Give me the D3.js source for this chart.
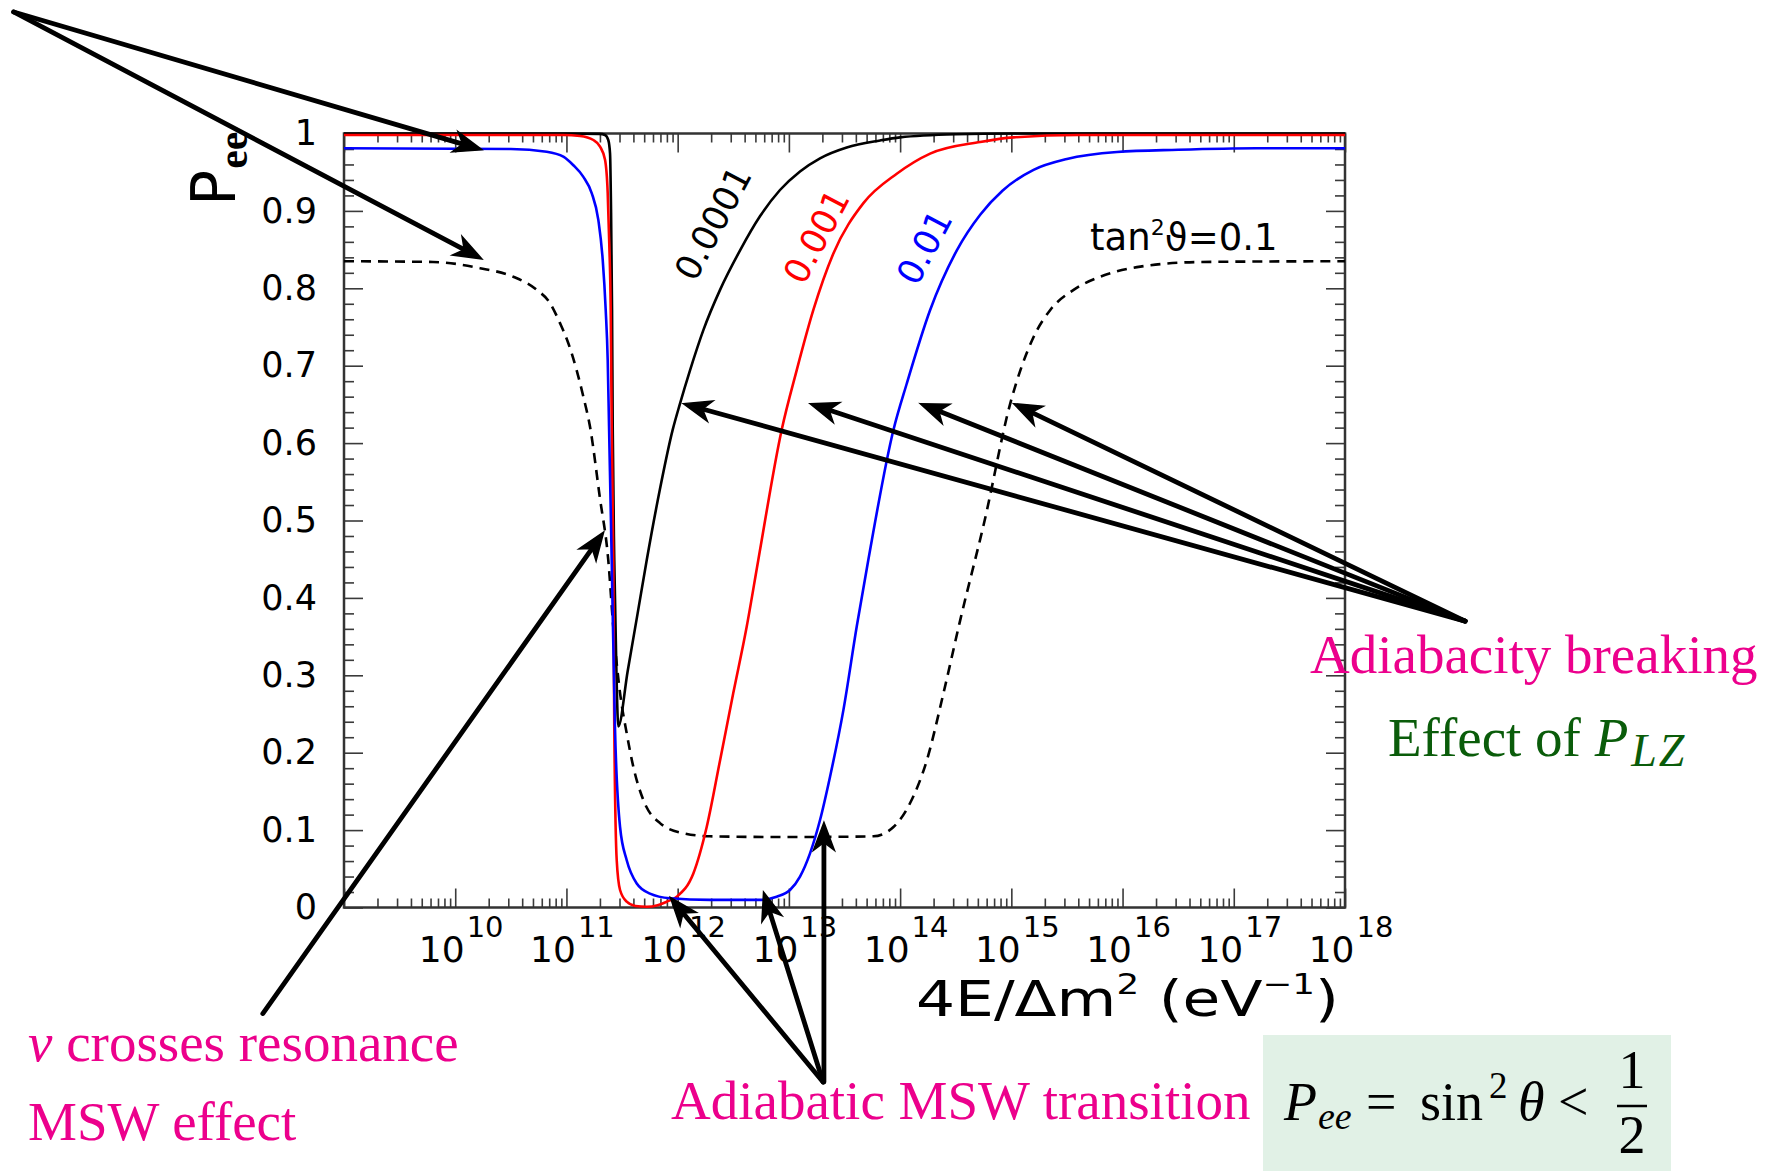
<!DOCTYPE html>
<html><head><meta charset="utf-8">
<script src="https://cdn.jsdelivr.net/npm/d3@7"></script>
<style>html,body{margin:0;padding:0;background:#fff;}svg{display:block;}</style>
</head><body>
<svg id="chart" width="1776" height="1171"></svg>
<script>
// ---------- data: survival probability vs log10(4E/Δm²) ----------
const blackLogE = [9, 11.0, 11.3, 11.347, 11.376, 11.392, 11.401, 11.41, 11.416, 11.43, 11.45, 11.466, 11.55, 11.64, 11.722, 11.84, 11.955, 12.021, 12.111, 12.231, 12.381, 12.561, 12.74, 12.92, 13.1, 13.28, 13.52, 13.82, 14.0, 14.5, 15.0, 18];
const blackP    = [1, 1, 0.9995, 0.998, 0.9916, 0.974, 0.901, 0.772, 0.621, 0.449, 0.3, 0.234, 0.305, 0.38, 0.449, 0.54, 0.617, 0.651, 0.694, 0.746, 0.798, 0.849, 0.893, 0.927, 0.951, 0.968, 0.982, 0.991, 0.995, 0.999, 1, 1];

const redLogE = [9, 10.972, 11.122, 11.242, 11.302, 11.347, 11.371, 11.385, 11.398, 11.407, 11.421, 11.43, 11.452, 11.482, 11.542, 11.62, 11.722, 11.82, 11.902, 11.992, 12.141, 12.261, 12.381, 12.5, 12.621, 12.725, 12.935, 13.07, 13.22, 13.4, 13.67, 13.97, 14.27, 14.72, 15.02, 15.6, 18];
const redP    = [0.998, 0.998, 0.9968, 0.9916, 0.983, 0.966, 0.923, 0.858, 0.772, 0.621, 0.449, 0.234, 0.061, 0.0226, 0.0075, 0.002, 0.001, 0.003, 0.0075, 0.014, 0.044, 0.104, 0.19, 0.277, 0.363, 0.449, 0.617, 0.694, 0.772, 0.845, 0.91, 0.948, 0.974, 0.989, 0.995, 0.998, 0.998];

const blueLogE = [9, 10.5, 10.822, 10.972, 11.062, 11.152, 11.227, 11.287, 11.326, 11.353, 11.371, 11.383, 11.407, 11.436, 11.482, 11.542, 11.632, 11.751, 11.931, 12.29, 12.74, 12.89, 13.01, 13.1, 13.19, 13.28, 13.37, 13.49, 13.61, 13.714, 13.94, 14.06, 14.27, 14.51, 14.72, 14.92, 15.2, 15.5, 15.95, 16.5, 17.2, 18];
const blueP    = [0.981, 0.98, 0.9765, 0.97, 0.959, 0.944, 0.923, 0.888, 0.837, 0.772, 0.707, 0.621, 0.449, 0.234, 0.104, 0.061, 0.031, 0.018, 0.012, 0.0099, 0.0099, 0.014, 0.0226, 0.04, 0.07, 0.113, 0.169, 0.255, 0.363, 0.449, 0.617, 0.677, 0.772, 0.849, 0.895, 0.926, 0.953, 0.967, 0.976, 0.979, 0.981, 0.981];

const dashLogE = [9, 9.8, 10.223, 10.522, 10.733, 10.852, 10.942, 11.017, 11.092, 11.152, 11.212, 11.3, 11.376, 11.421, 11.482, 11.542, 11.601, 11.691, 11.841, 12.051, 12.29, 13.0, 13.76, 13.94, 14.09, 14.24, 14.39, 14.54, 14.76, 14.99, 15.2, 15.35, 15.56, 15.8, 16.16, 16.7, 18];
const dashP    = [0.835, 0.834, 0.826, 0.815, 0.798, 0.781, 0.755, 0.729, 0.694, 0.66, 0.621, 0.53, 0.449, 0.363, 0.277, 0.225, 0.182, 0.139, 0.109, 0.096, 0.092, 0.091, 0.092, 0.104, 0.135, 0.19, 0.277, 0.371, 0.5, 0.651, 0.737, 0.772, 0.798, 0.815, 0.828, 0.834, 0.835];

// curve labels (tan²θ values) and their anchor in data space
const mixLabels   = ["0.0001", "0.001", "0.01"];
const mixColors   = ["#000000", "#ff0000", "#0000ff"];
const mixLabLogE  = [12.32, 13.25, 14.22];
const mixLabP     = [0.884, 0.867, 0.853];

// axis ticks
const xDecades = [10, 11, 12, 13, 14, 15, 16, 17, 18];
const yMajor = [0, 0.1, 0.2, 0.3, 0.4, 0.5, 0.6, 0.7, 0.8, 0.9, 1];

// annotation arrows: [fromLogE, fromP, toLogE, toP]
const arrowsTopLeft   = [[6.03, 1.157, 10.24, 0.979], [6.03, 1.157, 10.24, 0.838]];
const arrowsBreaking  = [[19.08, 0.37, 12.05, 0.651], [19.08, 0.37, 13.19, 0.651], [19.08, 0.37, 14.18, 0.651], [19.08, 0.37, 15.02, 0.651]];
const arrowsResonance = [[8.27, -0.137, 11.335, 0.485]];
const arrowsAdiabatic = [[13.307, -0.2255, 11.934, 0.0129], [13.307, -0.2255, 12.772, 0.02], [13.315, -0.2255, 13.315, 0.11]];

// ---------- scales ----------
const svg = d3.select("#chart");
svg.append("rect").attr("width", 1776).attr("height", 1171).attr("fill", "#fff");

const x = d3.scaleLog().domain([1e9, 1e18]).range([344, 1345]);
const y = d3.scaleLinear().domain([0, 1]).range([907.5, 133.5]);
const X = e => x(Math.pow(10, e));

const tickFont = "'DejaVu Sans', sans-serif";
const serif = "'Liberation Serif', 'Times New Roman', serif";
const pink = "#ec008c";

// ---------- axes (ticks on all four sides, pointing inward) ----------
const xMajorVals = d3.range(9, 19).map(k => Math.pow(10, k));
const xMinorVals = [];
d3.range(9, 18).forEach(k => { for (let m = 2; m <= 9; m++) xMinorVals.push(m * Math.pow(10, k)); });
const yMinorVals = d3.range(0, 51).map(i => i / 50).filter(v => Math.abs(v * 10 - Math.round(v * 10)) > 1e-6);

function styleTicks(g) {
  g.select(".domain").remove();
  g.selectAll(".tick line").attr("stroke", "#3a3a3a").attr("stroke-width", 1.6);
  g.selectAll(".tick text").remove();
}
const axisLayer = svg.append("g");
[[d3.axisBottom, 907.5], [d3.axisTop, 133.5]].forEach(([ax, ty]) => {
  axisLayer.append("g").attr("transform", `translate(0,${ty})`)
    .call(ax(x).tickValues(xMajorVals).tickSize(-19).tickFormat("")).call(styleTicks);
  axisLayer.append("g").attr("transform", `translate(0,${ty})`)
    .call(ax(x).tickValues(xMinorVals).tickSize(-9).tickFormat("")).call(styleTicks);
});
[[d3.axisLeft, 344], [d3.axisRight, 1345]].forEach(([ax, tx]) => {
  axisLayer.append("g").attr("transform", `translate(${tx},0)`)
    .call(ax(y).tickValues(yMajor).tickSize(-19).tickFormat("")).call(styleTicks);
  axisLayer.append("g").attr("transform", `translate(${tx},0)`)
    .call(ax(y).tickValues(yMinorVals).tickSize(-10).tickFormat("")).call(styleTicks);
});

// y tick labels
const yLab = svg.append("g").attr("transform", "translate(344,0)")
  .call(d3.axisLeft(y).tickValues(yMajor).tickSize(0).tickPadding(27)
    .tickFormat(d => (d === 0 || d === 1) ? String(d) : d3.format(".1f")(d)));
yLab.select(".domain").remove();
yLab.selectAll("text").attr("font-family", tickFont).attr("font-size", 35).attr("fill", "#000");

// x tick labels: 10^k
const xl = svg.append("g").selectAll("text").data(xDecades).join("text")
  .attr("x", d => x(Math.pow(10, d)) + 6).attr("y", 961.7)
  .attr("text-anchor", "middle").attr("font-family", tickFont).attr("fill", "#000");
xl.append("tspan").attr("font-size", 36).text("10");
xl.append("tspan").attr("font-size", 29).attr("dy", -24.4).attr("dx", 2).text(d => d);

// frame
svg.append("rect").attr("x", 344).attr("y", 133.5).attr("width", 1001).attr("height", 774)
  .attr("fill", "none").attr("stroke", "#333").attr("stroke-width", 2.5);

// axis titles
const yt = svg.append("text").attr("transform", "translate(235,206) rotate(-90)").attr("fill", "#000");
yt.append("tspan").attr("font-family", tickFont).attr("font-size", 60).text("P");
yt.append("tspan").attr("font-family", serif).attr("font-weight", "bold").attr("font-size", 42).attr("dy", 12).attr("dx", 1).text("ee");

const xt = svg.append("text").attr("x", 0).attr("y", 0).attr("font-family", tickFont).attr("font-size", 50).attr("fill", "#000");
xt.append("tspan").text("4E/Δm");
xt.append("tspan").attr("font-size", 29).attr("dy", -22).text("2");
xt.append("tspan").attr("dy", 22).text(" (eV");
xt.append("tspan").attr("font-size", 29).attr("dy", -22).text("−1");
xt.append("tspan").attr("dy", 22).text(")");
{
  const w = xt.node().getComputedTextLength();
  xt.attr("transform", `translate(916,1016) scale(${423 / w},1)`);
}

// ---------- curves ----------
const line = d3.line().x(d => X(d[0])).y(d => y(d[1])).curve(d3.curveMonotoneX);
const curves = svg.append("g").attr("fill", "none").attr("stroke-width", 2.6).attr("stroke-linejoin", "round");
curves.append("path").datum(d3.zip(dashLogE, dashP)).attr("d", line).attr("stroke", "#000").attr("stroke-dasharray", "10,7");
curves.append("path").datum(d3.zip(blackLogE, blackP)).attr("d", line).attr("stroke", "#000");
curves.append("path").datum(d3.zip(redLogE, redP)).attr("d", line).attr("stroke", "#ff0000");
curves.append("path").datum(d3.zip(blueLogE, blueP)).attr("d", line).attr("stroke", "#0000ff");

// curve labels
svg.append("g").selectAll("text").data(mixLabels).join("text")
  .attr("transform", (d, i) => `translate(${X(mixLabLogE[i])},${y(mixLabP[i])}) rotate(-62)`)
  .attr("text-anchor", "middle").attr("dominant-baseline", "central")
  .attr("font-family", tickFont).attr("font-size", 35)
  .attr("fill", (d, i) => mixColors[i]).text(d => d);

const tl = svg.append("text").attr("x", X(15.708)).attr("y", y(0.8495))
  .attr("font-family", tickFont).attr("font-size", 37).attr("fill", "#000");
tl.append("tspan").text("tan");
tl.append("tspan").attr("font-size", 22).attr("dy", -15).text("2");
tl.append("tspan").attr("dy", 15).text("ϑ=0.1");

// ---------- annotation arrows ----------
function drawArrows(list) {
  const g = svg.append("g");
  list.forEach(([e0, p0, e1, p1]) => {
    const x0 = X(e0), y0 = y(p0), x1 = X(e1), y1 = y(p1);
    const a = Math.atan2(y1 - y0, x1 - x0), ux = Math.cos(a), uy = Math.sin(a), px = -uy, py = ux;
    const len = 28, half = 10.5, notch = 8;
    const bx = x1 - ux * len, by = y1 - uy * len;
    const nx = x1 - ux * (len - notch), ny = y1 - uy * (len - notch);
    g.append("line").attr("x1", x0).attr("y1", y0).attr("x2", nx).attr("y2", ny)
      .attr("stroke", "#000").attr("stroke-width", 4.8).attr("stroke-linecap", "round");
    g.append("polygon").attr("points", [[x1, y1], [bx + px * half, by + py * half], [nx, ny], [bx - px * half, by - py * half]].join(" "))
      .attr("fill", "#000").attr("stroke", "#000").attr("stroke-width", 1.5).attr("stroke-linejoin", "miter");
  });
}
drawArrows(arrowsTopLeft);
drawArrows(arrowsBreaking);
drawArrows(arrowsResonance);
drawArrows(arrowsAdiabatic);

// ---------- annotation texts ----------
const ann = svg.append("g").attr("font-family", serif).attr("font-size", 55);
const t1 = ann.append("text").attr("x", 28).attr("y", 1061).attr("fill", pink);
t1.append("tspan").attr("font-style", "italic").text("ν");
t1.append("tspan").text(" crosses resonance");
ann.append("text").attr("x", 28).attr("y", 1140).attr("fill", pink).text("MSW effect");
ann.append("text").attr("x", 671).attr("y", 1119).attr("fill", pink).text("Adiabatic MSW transition");
ann.append("text").attr("x", 1310).attr("y", 673).attr("fill", pink).text("Adiabacity breaking");
const t5 = ann.append("text").attr("x", 1388).attr("y", 756).attr("fill", "#0a5c0a");
t5.append("tspan").text("Effect of ");
t5.append("tspan").attr("font-style", "italic").text("P");
t5.append("tspan").attr("font-style", "italic").attr("font-size", 46).attr("dy", 10).attr("dx", 3).attr("letter-spacing", 2).text("LZ");

// formula box
svg.append("rect").attr("x", 1263).attr("y", 1035).attr("width", 408).attr("height", 136).attr("fill", "#e1f1e6");
const f = svg.append("g").attr("font-family", serif).attr("font-size", 54).attr("fill", "#000");
const fp = f.append("text").attr("x", 1284).attr("y", 1120);
fp.append("tspan").attr("font-style", "italic").text("P");
fp.append("tspan").attr("font-style", "italic").attr("font-size", 38).attr("dy", 9).attr("dx", 1).text("ee");
f.append("text").attr("x", 1366).attr("y", 1120).text("=");
f.append("text").attr("x", 1420).attr("y", 1120).text("sin");
f.append("text").attr("x", 1489).attr("y", 1098).attr("font-size", 37).text("2");
f.append("text").attr("x", 1518).attr("y", 1120).attr("font-style", "italic").text("θ");
f.append("text").attr("x", 1558).attr("y", 1120).text("<");
f.append("text").attr("x", 1632).attr("y", 1088).attr("text-anchor", "middle").text("1");
f.append("line").attr("x1", 1617).attr("x2", 1647).attr("y1", 1106).attr("y2", 1106).attr("stroke", "#000").attr("stroke-width", 2.5);
f.append("text").attr("x", 1632).attr("y", 1153).attr("text-anchor", "middle").text("2");
</script>
</body></html>
